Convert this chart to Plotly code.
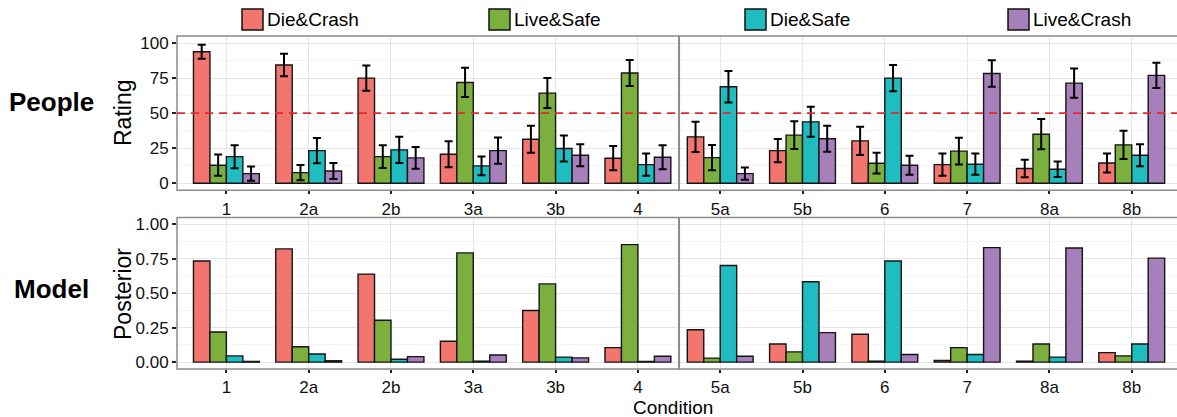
import plotly.graph_objects as go

conditions = ["1", "2a", "2b", "3a", "3b", "4", "5a", "5b", "6", "7", "8a", "8b"]
outcomes = ["Die&Crash", "Live&Safe", "Die&Safe", "Live&Crash"]
colors = ["#F3766E", "#7BAF3E", "#1FBCC0", "#A67FBB"]

# People ratings (mean) and error bar half-widths
rating_die_crash = [93.8, 84.3, 75.0, 20.7, 31.4, 17.9, 33.1, 23.3, 30.2, 13.3, 10.5, 14.5]
rating_live_safe = [12.9, 7.6, 19.0, 71.9, 64.3, 78.6, 18.3, 34.3, 14.3, 22.9, 35.0, 27.4]
rating_die_safe = [19.0, 23.3, 23.8, 12.4, 24.8, 13.3, 68.8, 43.8, 75.0, 13.6, 10.0, 20.0]
rating_live_crash = [6.9, 8.8, 18.1, 23.3, 20.0, 18.6, 6.9, 31.7, 12.9, 78.3, 71.4, 76.9]

err_die_crash = [5.0, 8.0, 9.0, 9.3, 9.6, 8.6, 10.8, 8.3, 10.1, 8.0, 6.2, 6.8]
err_live_safe = [7.6, 5.5, 8.1, 10.4, 10.7, 9.3, 9.0, 9.9, 7.4, 9.5, 10.8, 10.1]
err_die_safe = [8.2, 9.0, 9.3, 6.7, 9.3, 7.9, 11.2, 10.7, 9.3, 7.6, 5.5, 7.9]
err_live_crash = [5.1, 5.7, 7.7, 9.4, 7.9, 8.6, 4.4, 9.3, 6.8, 9.4, 10.4, 9.0]

# Model posterior
post_die_crash = [0.734, 0.822, 0.639, 0.152, 0.375, 0.105, 0.235, 0.131, 0.202, 0.012, 0.007, 0.069]
post_live_safe = [0.219, 0.112, 0.304, 0.793, 0.568, 0.853, 0.029, 0.074, 0.007, 0.105, 0.131, 0.045]
post_die_safe = [0.045, 0.059, 0.021, 0.007, 0.036, 0.005, 0.701, 0.584, 0.734, 0.055, 0.036, 0.131]
post_live_crash = [0.005, 0.010, 0.040, 0.052, 0.031, 0.043, 0.043, 0.214, 0.055, 0.831, 0.829, 0.755]

rating_tick_vals = [0, 25, 50, 75, 100]
rating_tick_text = ["0", "25", "50", "75", "100"]
post_tick_vals = [0, 0.25, 0.5, 0.75, 1.0]
post_tick_text = ["0.00", "0.25", "0.50", "0.75", "1.00"]

ratings = [rating_die_crash, rating_live_safe, rating_die_safe, rating_live_crash]
errors = [err_die_crash, err_live_safe, err_die_safe, err_live_crash]
posts = [post_die_crash, post_live_safe, post_die_safe, post_live_crash]

FONT = "Liberation Sans, Arial, Helvetica, sans-serif"
W, H = 1177, 417
ML, MR, MT, MB = 177, 0, 36, 48
PW, PH = W - ML - MR, H - MT - MB


def px_x(px):
    return (px - ML) / PW


def px_y(py):
    return (H - MB - py) / PH


fig = go.Figure()
for i, name in enumerate(outcomes):
    fig.add_trace(go.Bar(
        x=conditions, y=ratings[i], name=name, xaxis="x2", yaxis="y2",
        offsetgroup=str(i), showlegend=False,
        marker=dict(color=colors[i], line=dict(color="#151515", width=1.4)),
        error_y=dict(type="data", array=errors[i], color="black", thickness=2, width=4),
    ))
    fig.add_trace(go.Bar(
        x=conditions, y=posts[i], name=name, xaxis="x", yaxis="y",
        offsetgroup=str(i), showlegend=False,
        marker=dict(color=colors[i], line=dict(color="#151515", width=1.4)),
    ))

top_dom = [px_y(190.3), 1.0]
bot_dom = [0.0, px_y(217.5)]

common_x = dict(
    type="category", range=[-0.6, 11.55], showgrid=True, gridcolor="#E6E6E6", gridwidth=1,
    ticks="outside", ticklen=3, tickwidth=1.5, tickcolor="#222",
    tickfont=dict(family=FONT, size=17, color="#111"), showline=False, zeroline=False,
)
fig.update_layout(
    width=W, height=H, margin=dict(l=ML, r=MR, t=MT, b=MB),
    paper_bgcolor="white", plot_bgcolor="white",
    barmode="group", bargap=0.2, bargroupgap=0,
    showlegend=False,
    xaxis=dict(common_x, anchor="y", domain=[0, 1]),
    xaxis2=dict(common_x, anchor="y2", domain=[0, 1]),
    yaxis=dict(
        domain=bot_dom, range=[-0.05, 1.05], tickvals=post_tick_vals, ticktext=post_tick_text,
        showgrid=True, gridcolor="#E6E6E6", zeroline=False, ticks="outside", ticklen=4,
        tickwidth=1.5, tickcolor="#222", tickfont=dict(family=FONT, size=17, color="#111"),
        minor=dict(dtick=0.125, tick0=0.125, showgrid=True, gridcolor="#F4F4F4", ticks=""),
        anchor="x",
    ),
    yaxis2=dict(
        domain=top_dom, range=[-5, 105], tickvals=rating_tick_vals, ticktext=rating_tick_text,
        showgrid=True, gridcolor="#E6E6E6", zeroline=False, ticks="outside", ticklen=4,
        tickwidth=1.5, tickcolor="#222", tickfont=dict(family=FONT, size=17, color="#111"),
        minor=dict(dtick=12.5, tick0=12.5, showgrid=True, gridcolor="#F4F4F4", ticks=""),
        anchor="x2",
    ),
)

shapes = []
border = "#8A8A8A"
for dom in (top_dom, bot_dom):
    shapes.append(dict(type="rect", xref="paper", yref="paper", x0=0, x1=1.01, y0=dom[0], y1=dom[1],
                       line=dict(color=border, width=1.5), layer="above"))
# facet divider between condition 4 and 5a
shapes.append(dict(type="line", xref="x2", yref="paper", x0=5.5, x1=5.5, y0=top_dom[0], y1=top_dom[1],
                   line=dict(color=border, width=2), layer="above"))
shapes.append(dict(type="line", xref="x", yref="paper", x0=5.5, x1=5.5, y0=bot_dom[0], y1=bot_dom[1],
                   line=dict(color=border, width=2), layer="above"))
# chance line at 50
shapes.append(dict(type="line", xref="paper", yref="y2", x0=0, x1=1, y0=50, y1=50,
                   line=dict(color="#E5282C", width=1.8, dash="8px,6px"), layer="above"))

# manual legend
legend_box_px = [242, 489, 745, 1008]
annotations = []
for i, name in enumerate(outcomes):
    x0 = legend_box_px[i]
    shapes.append(dict(type="rect", xref="paper", yref="paper", x0=px_x(x0), x1=px_x(x0 + 21),
                       y0=px_y(30), y1=px_y(9), fillcolor=colors[i],
                       line=dict(color="#111", width=1.5)))
    annotations.append(dict(xref="paper", yref="paper", x=px_x(x0 + 23), y=px_y(20), text=name,
                            showarrow=False, xanchor="left", yanchor="middle",
                            font=dict(family=FONT, size=19, color="black")))

annotations += [
    dict(xref="paper", yref="paper", x=px_x(51), y=px_y(102), text="<b>People</b>", showarrow=False,
         xanchor="center", yanchor="middle", font=dict(family=FONT, size=26, color="black")),
    dict(xref="paper", yref="paper", x=px_x(51), y=px_y(289), text="<b>Model</b>", showarrow=False,
         xanchor="center", yanchor="middle", font=dict(family=FONT, size=26, color="black")),
    dict(xref="paper", yref="paper", x=px_x(123), y=px_y(113), text="Rating", showarrow=False,
         textangle=-90, xanchor="center", yanchor="middle", font=dict(family=FONT, size=23, color="black")),
    dict(xref="paper", yref="paper", x=px_x(123), y=px_y(294), text="Posterior", showarrow=False,
         textangle=-90, xanchor="center", yanchor="middle", font=dict(family=FONT, size=23, color="black")),
    dict(xref="paper", yref="paper", x=px_x(673), y=px_y(407.5), text="Condition", showarrow=False,
         xanchor="center", yanchor="middle", borderpad=0,
         font=dict(family=FONT, size=19, color="black")),
]

fig.update_layout(shapes=shapes, annotations=annotations)
fig.write_html("out.html")
